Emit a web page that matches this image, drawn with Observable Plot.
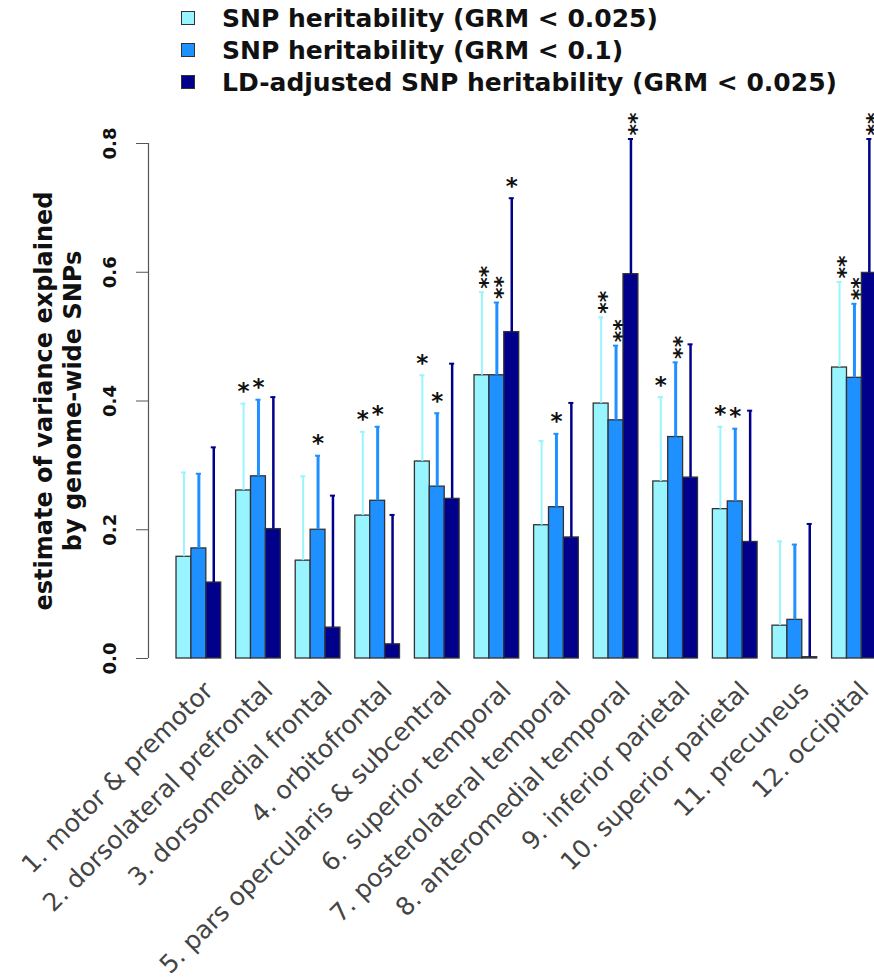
<!DOCTYPE html>
<html><head><meta charset="utf-8">
<script src="https://cdn.jsdelivr.net/npm/d3@7"></script>
<script src="https://cdn.jsdelivr.net/npm/@observablehq/plot@0.6"></script>
<style>
html,body{margin:0;padding:0;background:#fff;overflow:hidden;width:874px;height:979px}
#legend{height:100px;position:relative;font-family:"DejaVu Sans";font-weight:bold;font-size:25px;color:#111}
.row{position:absolute;left:181px;height:32px;display:flex;align-items:center;white-space:nowrap}
.sw{width:12px;height:12px;border:1px solid #333;margin-right:27px;flex:none}
</style></head><body>
<div id="legend"></div><div id="chart"></div>
<script>
const regions = ["1. motor & premotor", "2. dorsolateral prefrontal", "3. dorsomedial frontal", "4. orbitofrontal",
  "5. pars opercularis & subcentral", "6. superior temporal", "7. posterolateral temporal", "8. anteromedial temporal",
  "9. inferior parietal", "10. superior parietal", "11. precuneus", "12. occipital"];
const seriesNames = ["SNP heritability (GRM < 0.025)", "SNP heritability (GRM < 0.1)", "LD-adjusted SNP heritability (GRM < 0.025)"];
const seriesColors = ["#98F5FF", "#1E90FF", "#00008B"];
const h025 = [0.158, 0.261, 0.152, 0.222, 0.306, 0.440, 0.207, 0.396, 0.275, 0.232, 0.051, 0.452];
const h01  = [0.171, 0.283, 0.200, 0.245, 0.267, 0.440, 0.235, 0.370, 0.344, 0.244, 0.060, 0.436];
const hLD  = [0.118, 0.201, 0.048, 0.022, 0.248, 0.507, 0.188, 0.597, 0.281, 0.181, 0.002, 0.599];
const up025 = [0.289, 0.396, 0.283, 0.352, 0.440, 0.569, 0.338, 0.530, 0.406, 0.360, 0.182, 0.585];
const up01  = [0.287, 0.402, 0.315, 0.360, 0.381, 0.553, 0.349, 0.486, 0.460, 0.357, 0.177, 0.551];
const upLD  = [0.328, 0.406, 0.253, 0.223, 0.458, 0.715, 0.397, 0.807, 0.488, 0.385, 0.209, 0.807];
const sig025 = ["", "*", "", "*", "*", "**", "", "**", "*", "*", "", "**"];
const sig01  = ["", "*", "*", "*", "*", "**", "*", "**", "**", "*", "", "**"];
const sigLD  = ["", "", "", "", "", "*", "", "**", "", "", "", "**"];
const yTicks = [0, 0.2, 0.4, 0.6, 0.8];
const yTitle = "estimate of variance explained\nby genome-wide SNPs";

// legend
const legend = document.getElementById("legend");
seriesNames.forEach((name, i) => {
  const row = document.createElement("div");
  row.className = "row";
  row.style.top = (2 + 32 * i) + "px";
  row.innerHTML = `<span class="sw" style="background:${seriesColors[i]}"></span><span></span>`;
  row.lastChild.textContent = name;
  legend.appendChild(row);
});

const values = [h025, h01, hLD], uppers = [up025, up01, upLD], sigs = [sig025, sig01, sigLD];
const rows = [];
regions.forEach((r, i) => {
  for (let s = 0; s < 3; s++) {
    rows.push({region: r, series: seriesNames[s], s, value: values[s][i], upper: uppers[s][i], sig: sigs[s][i], pos: 4 * i + s + 1});
  }
});
const xDomain = [-0.88, 49.88];
const errW = [2, 3, 2.5];

const chart = Plot.plot({
  width: 874,
  height: 879,
  marginLeft: 148,
  marginRight: 0,
  marginTop: 43,
  marginBottom: 321,
  style: {fontFamily: "DejaVu Sans", background: "#fff", overflow: "hidden"},
  x: {domain: xDomain, range: [148, 904.3], axis: null},
  y: {domain: [0, 0.8], axis: null},
  color: {domain: seriesNames, range: seriesColors},
  marks: [
    Plot.rectY(rows, {x1: "pos", x2: d => d.pos + 1, y1: 0, y2: "value", fill: "series", stroke: "#333", strokeWidth: 1.3}),
    Plot.ruleX(rows, {x: d => d.pos + 0.5, y1: "value", y2: "upper", stroke: "series", strokeWidth: d => errW[d.s]}),
    Plot.ruleY(rows, {y: "upper", x1: d => d.pos + 0.33, x2: d => d.pos + 0.67, stroke: "series", strokeWidth: 2}),
    Plot.text(rows.filter(d => d.sig === "*"), {x: d => d.pos + 0.5, y: "upper", text: "sig", fontSize: 23, fontWeight: "bold", fill: "#111", dy: -12}),
    Plot.text(rows.filter(d => d.sig === "**"), {x: d => d.pos + 0.5, y: "upper", text: "sig", fontSize: 22, fontWeight: "bold", fill: "#111", rotate: -90, dx: 6, dy: -15}),
    Plot.ruleX([xDomain[0]], {y1: 0, y2: 0.8, stroke: "#555", strokeWidth: 1.2}),
    Plot.axisY({ticks: yTicks, tickFormat: d3.format(".1f"), tickSize: 12, tickPadding: 21, tickRotate: -90, fontSize: 18, fontWeight: "bold", fill: "#111", stroke: "#555", label: null}),
    Plot.text([yTitle], {frameAnchor: "left", textAnchor: "middle", lineAnchor: "middle", rotate: -90, dx: -91, text: d => d, fontSize: 24, fontWeight: "bold", lineHeight: 1.2, fill: "#111"}),
    Plot.text(regions, {x: (d, i) => 4 * i + 2.5, y: () => 0, text: d => d, rotate: -45, textAnchor: "end", dx: 10, dy: 28, fontSize: 25, fill: "#444"})
  ]
});
document.getElementById("chart").appendChild(chart);
</script>
</body></html>
